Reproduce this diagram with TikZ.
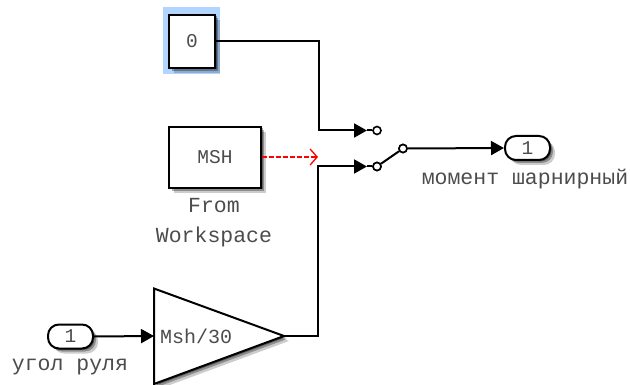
\documentclass[tikz,border=0pt]{standalone}
\usepackage{fontspec}
\setmonofont{Liberation Mono}
\usetikzlibrary{arrows.meta,shadows}
\tikzset{
	softshadow/.style={
		drop shadow={shadow xshift=1.5pt,shadow yshift=-1.5pt,opacity=.35,fill=black},
		drop shadow={shadow xshift=3pt,shadow yshift=-3pt,opacity=.3,fill=black},
		drop shadow={shadow xshift=5pt,shadow yshift=-5pt,opacity=.2,fill=black}},
	block/.style={draw,line width=2pt,fill=white,softshadow,inner sep=0pt,
		text=black!70,font=\ttfamily\fontsize{19.5}{20}\selectfont},
	port/.style={block,rounded corners=11pt,minimum width=45pt,minimum height=24pt},
	caption/.style={inner sep=0pt,text=black!70,font=\ttfamily\fontsize{21.5}{22}\selectfont},
	contact/.style={circle,draw,line width=1.6pt,fill=white,minimum size=8pt,inner sep=0pt},
	wire/.style={line width=2pt,-{Triangle[length=13pt,width=14pt]}},
	stub/.style={line width=2pt},
	signal/.style={red,line width=1.5pt,dash pattern=on 5pt off 2pt,-{Straight Barb[length=7pt,width=16pt,line width=1.3pt]}}
}
\begin{document}
\begin{tikzpicture}[x=1pt,y=-1pt]
	\useasboundingbox (0,0) rectangle (630,385);

	% blocks
	\fill [blue!55!cyan!30] (163,7) rectangle (220,74);
	\node [block,minimum width=46pt,minimum height=53pt] (constzero) at (192,41.5) {0};
	\node [block,minimum width=92pt,minimum height=61pt] (fromws) at (215,157.5) {MSH};
	\node [caption] (fromlabel) at (214,206) {From};
	\node [caption] (wslabel) at (214,237) {Workspace};

	\draw [line width=2pt,fill=white,softshadow] (154,288.5) -- (284,336) -- (154,384) -- cycle;
	\node [caption,anchor=west,font=\ttfamily\fontsize{20}{20}\selectfont] (gain) at (160,336) {Msh/30};
	\coordinate (gainin) at (154,336);
	\coordinate (gainout) at (284,336);

	\node [port] (inport) at (70.5,336.5) {1};
	\node [caption] (inlabel) at (70,367) {угол руля};
	\node [port] (outport) at (527.5,148) {1};
	\node [caption] (outlabel) at (525,179) {момент шарнирный};

	% switch
	\node [contact] (swtop) at (377,130.5) {};
	\node [contact] (swbottom) at (377,166.5) {};
	\node [contact] (swout) at (403,148.5) {};
	\coordinate (topin) at (367,130.5);
	\coordinate (bottomin) at (367,166.5);
	\coordinate (topbend) at (319,130.5);
	\coordinate (bottombend) at (318,166.5);
	\coordinate (signalend) at (318,157);

	% wires
	\draw [wire] (constzero.east) -| (topbend) -- (topin);
	\draw [wire] (gainout) -| (bottombend) -- (bottomin);
	\draw [wire] (inport.east) -- (gainin);
	\draw [wire] (swout.east) -- (outport.west);
	\draw [stub] (topin) -- (swtop.west);
	\draw [stub] (bottomin) -- (swbottom.west);
	\draw [stub] (swbottom) -- (swout);
	\node [contact] at (swbottom) {};
	\node [contact] at (swout) {};
	\draw [signal] (fromws.east |- signalend) -- (signalend);
\end{tikzpicture}
\end{document}
